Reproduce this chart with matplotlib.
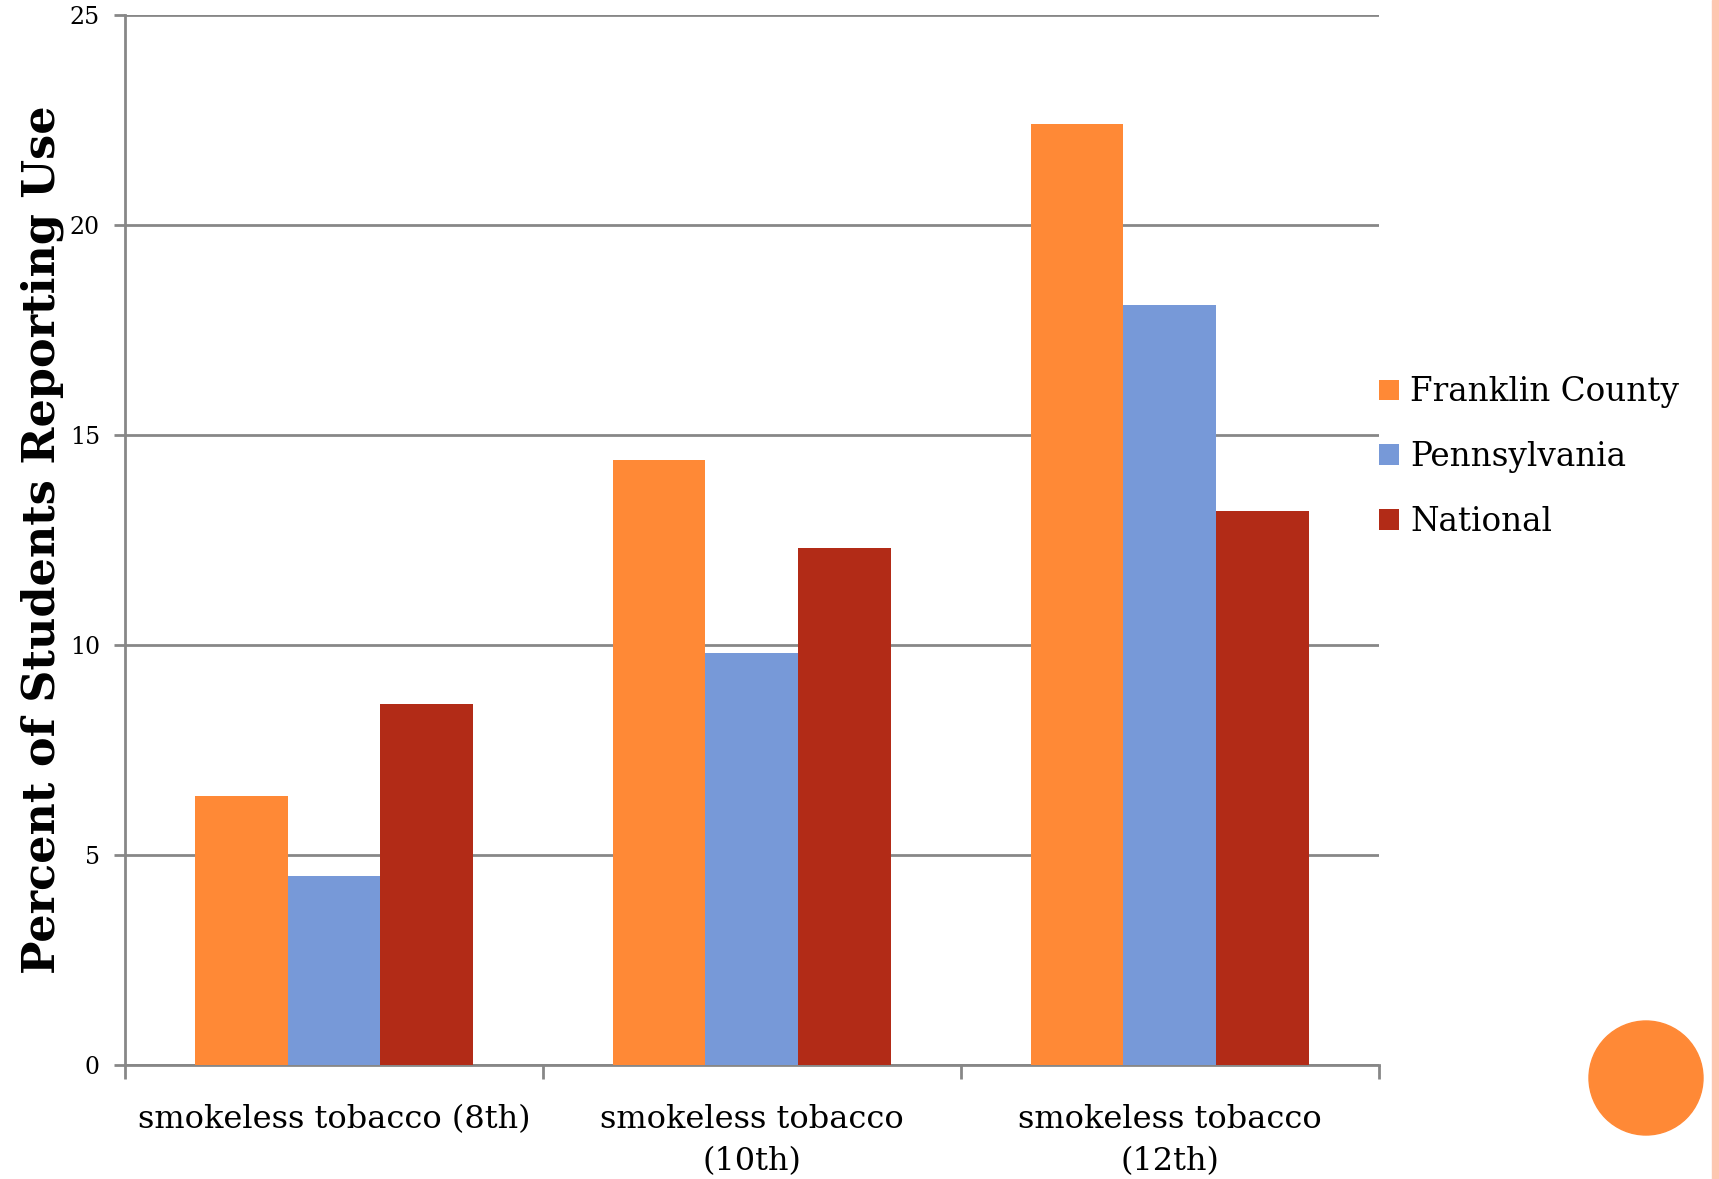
import matplotlib
matplotlib.use("Agg")
from matplotlib import pyplot as plt
from matplotlib.patches import Ellipse, Rectangle
import numpy as np

# chart data
categories = ["smokeless tobacco (8th)", "smokeless tobacco\n(10th)", "smokeless tobacco\n(12th)"]
series_names = ["Franklin County", "Pennsylvania", "National"]
franklin = [6.4, 14.4, 22.4]
pennsylvania = [4.5, 9.8, 18.1]
national = [8.6, 12.3, 13.2]
y_ticks = [0, 5, 10, 15, 20, 25]

colors = ["#FF8936", "#7799D8", "#B22B17"]
grey = "#878787"

plt.rcParams["font.family"] = ["DejaVu Serif"]

W, H = 1719, 1179
fig = plt.figure(figsize=(W / 100, H / 100), dpi=100)
ax = fig.add_axes([0.0727, 0.0967, 0.7293, 0.8906])

x = np.arange(len(categories))
w = 0.222
for i, (vals, name) in enumerate(zip([franklin, pennsylvania, national], series_names)):
    ax.bar(x + (i - 1) * w, vals, width=w, color=colors[i], label=name, zorder=3)

ax.set_xlim(-0.5, 2.5)
ax.set_ylim(0, 25)
ax.set_yticks(y_ticks)
ax.set_yticklabels([str(t) for t in y_ticks], fontsize=17)
ax.yaxis.grid(True, color=grey, linewidth=2, zorder=0)
ax.tick_params(axis="y", length=8, width=2, color=grey, pad=10)

ax.set_xticks(x)
ax.set_xticklabels(categories, fontsize=23, linespacing=1.45)
ax.tick_params(axis="x", which="major", length=0, pad=28)
ax.set_xticks([-0.5, 0.5, 1.5, 2.5], minor=True)
ax.tick_params(axis="x", which="minor", length=10, width=2, color=grey)

for s in ["top", "right"]:
    ax.spines[s].set_visible(False)
for s in ["left", "bottom"]:
    ax.spines[s].set_color(grey)
    ax.spines[s].set_linewidth(2)

ax.set_ylabel("Percent of Students Reporting Use", fontsize=32, fontweight="bold", labelpad=4)

leg = ax.legend(loc="center left", bbox_to_anchor=(0.977, 0.579), frameon=False,
                fontsize=23.5, handlelength=0.6, handleheight=0.6, handletextpad=0.35,
                labelspacing=1.0)

# slide decorations
fig.patches.append(Rectangle((1712 / W, 0), 7 / W, 1, transform=fig.transFigure,
                             color="#FDC6B0", zorder=0))
fig.patches.append(Ellipse((1646 / W, 1 - 1078 / H), 114 / W, 114 / H, transform=fig.transFigure,
                           color="#FF8936"))

plt.savefig("out.png", dpi=100)
